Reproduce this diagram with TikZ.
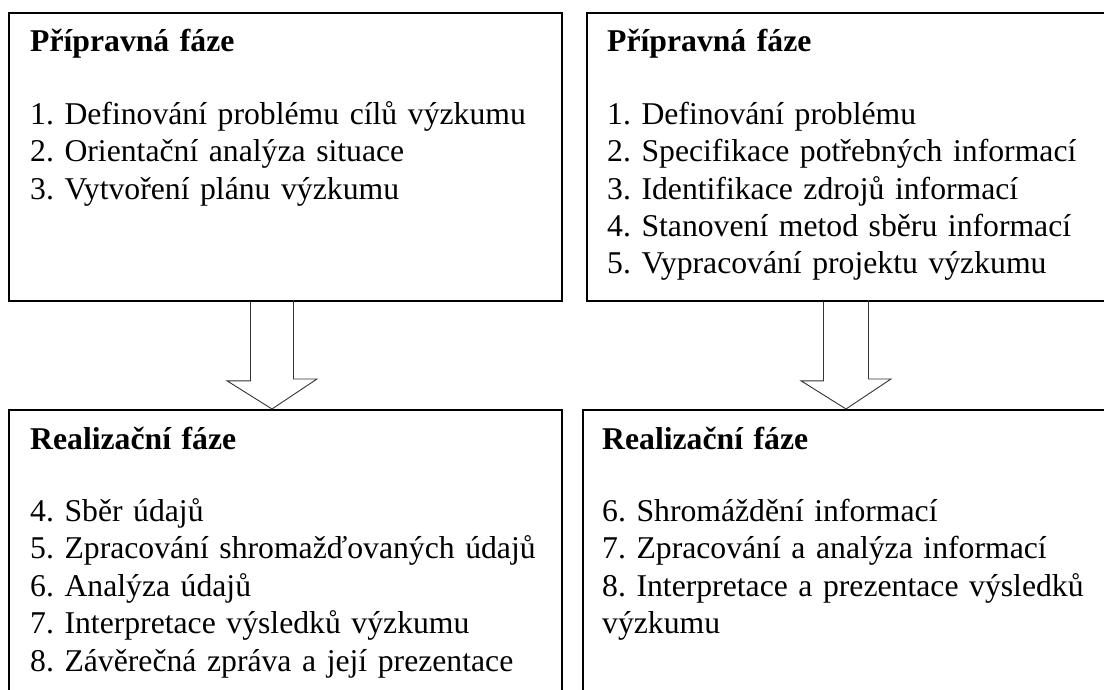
\documentclass[tikz,border=0pt]{standalone}
\usepackage{fontspec}
\setmainfont{Liberation Serif}
\frenchspacing
\usetikzlibrary{positioning,calc}

\tikzset{
  phase/.style={draw,line width=1.8pt,anchor=north west,inner sep=0pt},
  phasetext/.style={anchor=base west,align=left,text width=520pt,inner sep=0pt,font=\fontsize{31.7}{37.4}\selectfont},
  hollow/.style={draw=black!80,line width=0.9pt,line join=miter}
}

\begin{document}
\begin{tikzpicture}[x=1pt,y=1pt]
\useasboundingbox (0,0) rectangle (1104,-690);
\clip (0,0) rectangle (1104,-690);
% the four phase boxes
\node[phase,minimum width=553pt,minimum height=288pt] (prepL) at (8,-12) {};
\node[phase,minimum width=540pt,minimum height=288pt] (prepR) at (586,-12) {};
\node[phase,minimum width=553pt,minimum height=300pt] (realL) at (8,-409) {};
\node[phase,minimum width=540pt,minimum height=300pt] (realR) at (582,-409) {};
% texts
\node[phasetext] (prepLtxt) at ($(prepL.north west)+(22,-40)$) {\textbf{Přípravná fáze}\\[35pt]
1. Definování problému cílů výzkumu\\
2. Orientační analýza situace\\
3. Vytvoření plánu výzkumu};
\node[phasetext] (prepRtxt) at ($(prepR.north west)+(21,-40)$) {\textbf{Přípravná fáze}\\[35pt]
1. Definování problému\\
2. Specifikace potřebných informací\\
3. Identifikace zdrojů informací\\
4. Stanovení metod sběru informací\\
5. Vypracování projektu výzkumu};
\node[phasetext] (realLtxt) at ($(realL.north west)+(22,-40)$) {\textbf{Realizační fáze}\\[35pt]
4. Sběr údajů\\
5. Zpracování shromažďovaných údajů\\
6. Analýza údajů\\
7. Interpretace výsledků výzkumu\\
8. Závěrečná zpráva a její prezentace};
\node[phasetext] (realRtxt) at ($(realR.north west)+(20,-40)$) {\textbf{Realizační fáze}\\[35pt]
6. Shromáždění informací\\
7. Zpracování a analýza informací\\
8. Interpretace a prezentace výsledků\\
výzkumu};
% hollow arrows
\coordinate (tipL) at (realL.north -| 272,0);
\coordinate (tipR) at (realR.north -| 846,0);
\draw[hollow] (tipL |- prepL.south) ++(-21.5,0) -- ++(0,-79) -- ++(-23.5,0) -- (tipL) -- ++(45,30) -- ++(-23.5,0) -- ++(0,79);
\draw[hollow] (tipR |- prepR.south) ++(-22.5,0) -- ++(0,-79) -- ++(-22.5,0) -- (tipR) -- ++(45,30) -- ++(-22.5,0) -- ++(0,79);
\end{tikzpicture}
\end{document}
